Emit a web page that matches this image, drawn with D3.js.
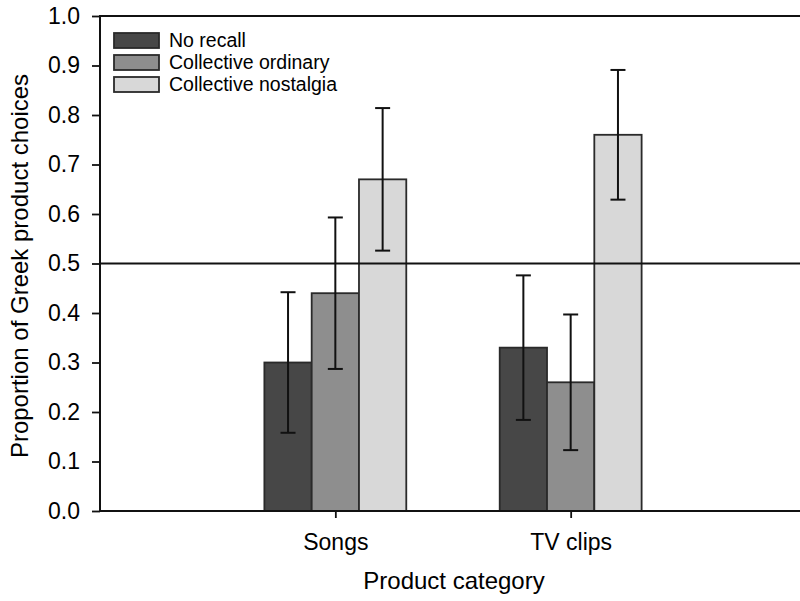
<!DOCTYPE html>
<html><head><meta charset="utf-8">
<script src="https://cdn.jsdelivr.net/npm/d3@7"></script>
<style>body{margin:0;background:#fff}svg{display:block}text{font-family:"Liberation Sans",Arial,sans-serif;fill:#000}</style>
</head><body><svg id="c" width="800" height="601"></svg>
<script>
const categories = ["Songs", "TV clips"];
const seriesNames = ["No recall", "Collective ordinary", "Collective nostalgia"];
const noRecall = [0.30, 0.33];
const noRecallErr = [0.142, 0.146];
const collOrdinary = [0.44, 0.26];
const collOrdinaryErr = [0.153, 0.137];
const collNostalgia = [0.67, 0.76];
const collNostalgiaErr = [0.144, 0.131];
const yTicks = [0,0.1,0.2,0.3,0.4,0.5,0.6,0.7,0.8,0.9,1.0];
const colors = ["#474747", "#8e8e8e", "#d8d8d8"];

const values = [noRecall, collOrdinary, collNostalgia];
const errs = [noRecallErr, collOrdinaryErr, collNostalgiaErr];

const svg = d3.select("#c");
const L = 100, R = 800, T = 16, B = 511;
const y = d3.scaleLinear().domain([0,1]).range([B, T]);
const x = d3.scalePoint().domain(categories).range([L, 806]).padding(1);
const barW = 47.3;
const inner = d3.scaleBand().domain(seriesNames).range([-1.5*barW, 1.5*barW]).padding(0);

svg.append("line").attr("x1",L).attr("x2",R).attr("y1",T).attr("y2",T).attr("stroke","#111").attr("stroke-width",2);

const data = [];
categories.forEach((c,i)=>seriesNames.forEach((s,j)=>data.push({c,s,j,v:values[j][i],e:errs[j][i]})));

const g = svg.append("g");
g.selectAll("rect.bar").data(data).enter().append("rect")
  .attr("x", d=>x(d.c)+inner(d.s))
  .attr("y", d=>y(d.v))
  .attr("width", inner.bandwidth())
  .attr("height", d=>y(0)-y(d.v))
  .attr("fill", d=>colors[d.j])
  .attr("stroke","#2a2a2a").attr("stroke-width",1.8);

svg.append("line").attr("x1",L).attr("x2",R).attr("y1",y(0.5)).attr("y2",y(0.5)).attr("stroke","#111").attr("stroke-width",1.8);

const eb = svg.append("g").attr("stroke","#111").attr("stroke-width",2);
data.forEach(d=>{
  const cx = x(d.c)+inner(d.s)+inner.bandwidth()/2;
  eb.append("line").attr("x1",cx).attr("x2",cx).attr("y1",y(d.v+d.e)).attr("y2",y(d.v-d.e));
  eb.append("line").attr("x1",cx-7.5).attr("x2",cx+7.5).attr("y1",y(d.v+d.e)).attr("y2",y(d.v+d.e));
  eb.append("line").attr("x1",cx-7.5).attr("x2",cx+7.5).attr("y1",y(d.v-d.e)).attr("y2",y(d.v-d.e));
});

const ya = svg.append("g").attr("transform",`translate(${L},0)`)
  .call(d3.axisLeft(y).tickValues(yTicks).tickFormat(d3.format(".1f")).tickSize(8).tickPadding(12));
ya.select(".domain").remove();
ya.selectAll(".tick line").attr("stroke","#111").attr("stroke-width",1.8);
ya.selectAll("text").style("font-size","23px").attr("fill","#000");
svg.append("line").attr("x1",L).attr("x2",L).attr("y1",T-1).attr("y2",B+1).attr("stroke","#111").attr("stroke-width",2);

const xa = svg.append("g").attr("transform",`translate(0,${B})`)
  .call(d3.axisBottom(x).tickSize(7).tickPadding(16));
xa.select(".domain").remove();
xa.selectAll(".tick line").attr("stroke","#111").attr("stroke-width",1.8);
xa.selectAll("text").style("font-size","23px").attr("fill","#000");
svg.append("line").attr("x1",L).attr("x2",R).attr("y1",B).attr("y2",B).attr("stroke","#111").attr("stroke-width",2);

svg.append("text").attr("x",454).attr("y",589).attr("text-anchor","middle").style("font-size","24px").text("Product category");
svg.append("text").attr("transform","translate(28,266) rotate(-90)").attr("text-anchor","middle").style("font-size","24px").text("Proportion of Greek product choices");

const lg = svg.append("g");
seriesNames.forEach((s,j)=>{
  const yy = 33 + j*22;
  lg.append("rect").attr("x",114).attr("y",yy).attr("width",45).attr("height",15).attr("fill",colors[j]).attr("stroke","#2a2a2a").attr("stroke-width",1.8);
  lg.append("text").attr("x",169).attr("y",yy+14).style("font-size","19.5px").text(s);
});
</script></body></html>
